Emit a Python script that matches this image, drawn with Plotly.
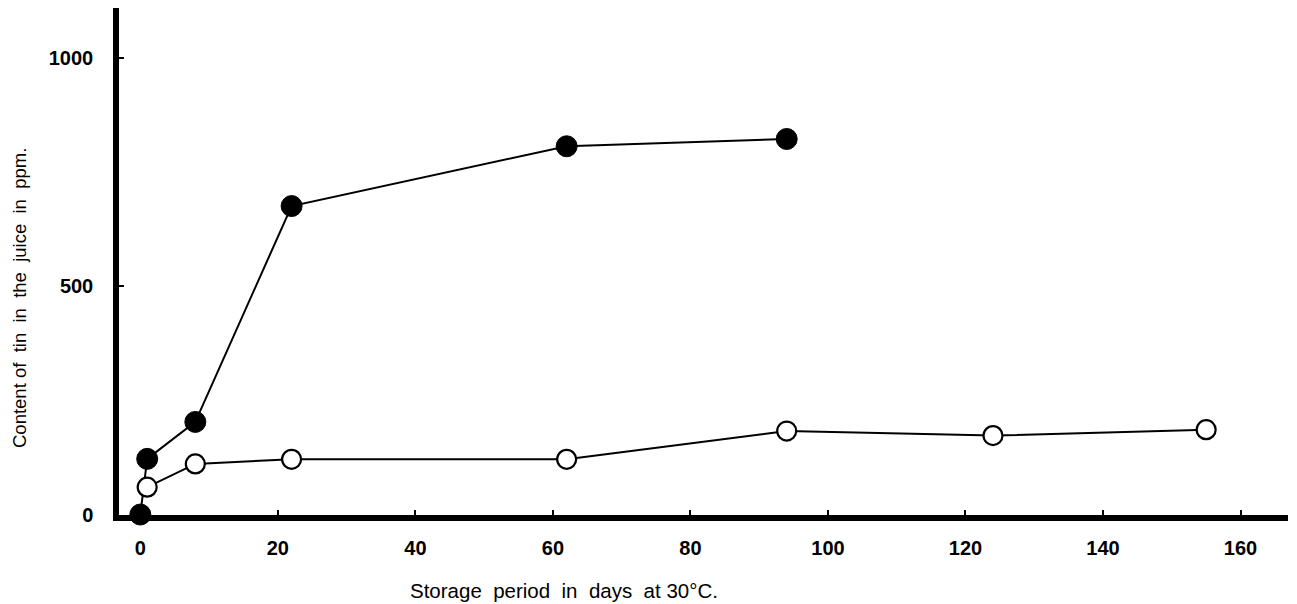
import plotly.graph_objects as go

# Data
filled_days = [0, 1, 8, 22, 62, 94]
filled_ppm = [0, 122, 203, 676, 807, 823]
open_days = [1, 8, 22, 62, 94, 124, 155]
open_ppm = [60, 111, 121, 121, 183, 173, 186]

x_ticks = [0, 20, 40, 60, 80, 100, 120, 140, 160]
y_ticks = [0, 500, 1000]

NB = "\u00a0"
x_title = (NB * 2).join(["Storage", "period", "in", "days", "at"]) + NB + "30°C."
y_title = "Content" + NB + (NB * 2).join(["of", "tin", "in", "the", "juice", "in", "ppm."])

fig = go.Figure()
fig.add_trace(go.Scatter(
    x=filled_days, y=filled_ppm, mode="lines+markers",
    line=dict(color="black", width=2),
    marker=dict(symbol="circle", size=21, color="black",
                line=dict(color="black", width=1)),
    cliponaxis=False, showlegend=False))
fig.add_trace(go.Scatter(
    x=open_days, y=open_ppm, mode="lines+markers",
    line=dict(color="black", width=2),
    marker=dict(symbol="circle", size=19, color="white",
                line=dict(color="black", width=2.2)),
    cliponaxis=False, showlegend=False))

tickfont = dict(family="Liberation Sans", size=20, color="black", weight="bold")

fig.update_layout(
    width=1297, height=604,
    margin=dict(l=119, r=9, t=8, b=89),
    paper_bgcolor="white", plot_bgcolor="white",
    xaxis=dict(range=[-3.1, 166.9], tickvals=x_ticks, ticks="inside",
               ticklen=5, tickwidth=2, tickcolor="black",
               showline=True, linewidth=5.5, linecolor="black",
               showgrid=False, zeroline=False, tickfont=tickfont,
               ticklabelstandoff=10),
    yaxis=dict(range=[-1, 1110], tickvals=y_ticks, ticks="inside",
               ticklen=5, tickwidth=2, tickcolor="black",
               showline=True, linewidth=5.5, linecolor="black",
               showgrid=False, zeroline=False, tickfont=tickfont,
               ticklabelstandoff=16),
    annotations=[
        dict(text=x_title, xref="paper", yref="paper", x=(564 - 119) / 1169,
             y=-(590 - 515) / 507, xanchor="center", yanchor="middle",
             showarrow=False,
             font=dict(family="Liberation Sans", size=20.5, color="black")),
        dict(text=y_title, xref="paper", yref="paper", x=-(119 - 19) / 1169,
             y=(515 - 298) / 507, xanchor="center", yanchor="middle",
             textangle=-90, showarrow=False,
             font=dict(family="Liberation Sans", size=18.5, color="black")),
    ],
)

fig.write_html("out.html")
